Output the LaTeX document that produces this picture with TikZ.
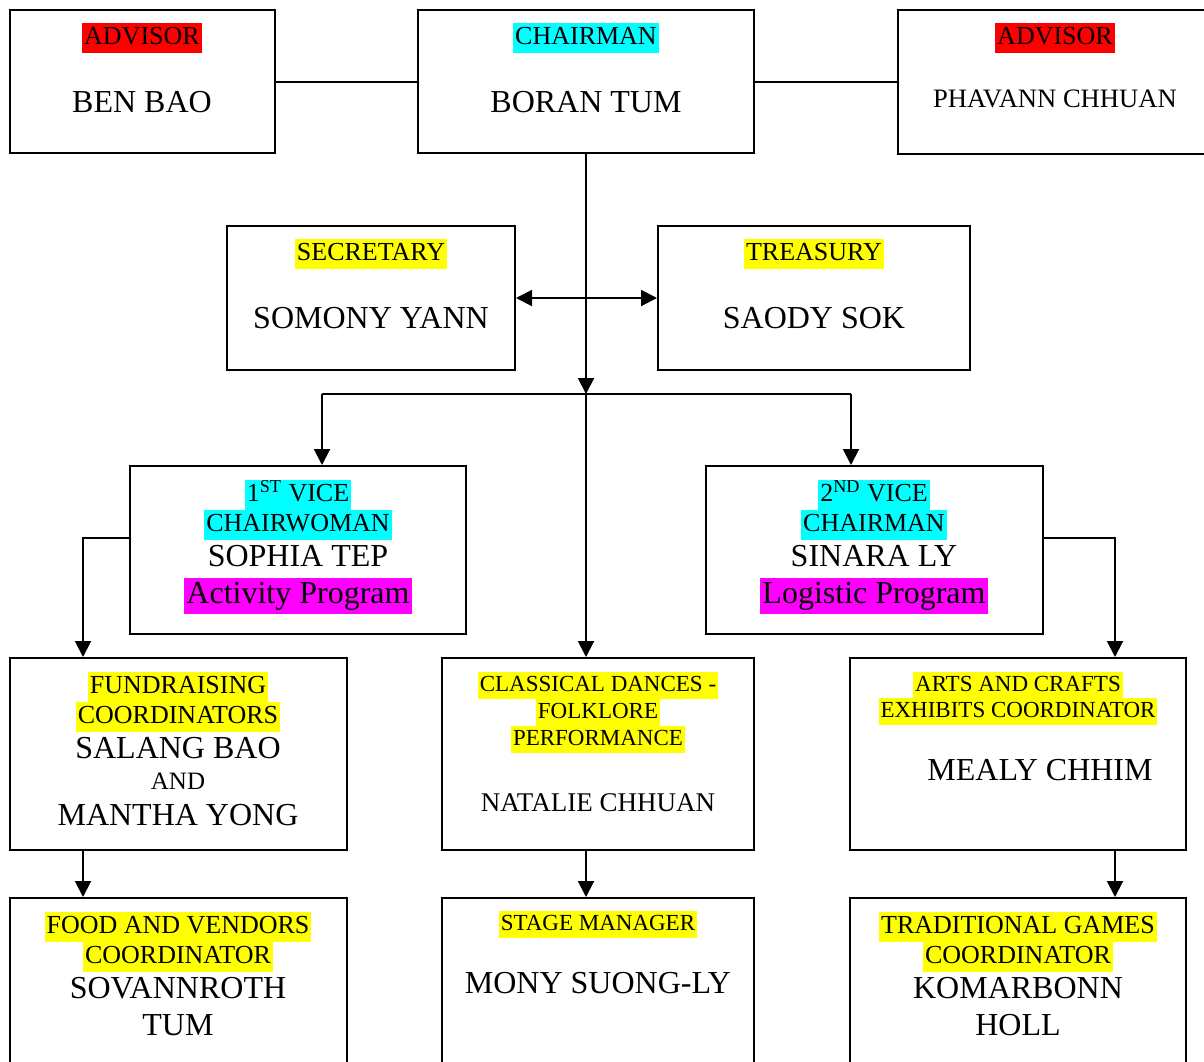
\documentclass[tikz,border=0pt]{standalone}
\usepackage{fontspec}
\setmainfont{Liberation Serif}
\usetikzlibrary{arrows.meta, positioning}
\definecolor{hlred}{RGB}{255, 0, 0}
\definecolor{hlcyan}{RGB}{0, 255, 255}
\definecolor{hlyellow}{RGB}{255, 255, 0}
\definecolor{hlmagenta}{RGB}{255, 0, 255}
\setlength{\fboxsep}{0pt}
\newcommand{\hl}[2]{\colorbox{#1}{\kern1pt\strut #2\kern1pt}}

\begin{document}
\begin{tikzpicture}[x=0.5pt, y=-0.5pt,
  box/.style={draw, line width=1pt, inner sep=0pt},
  head/.style={inner sep=0pt, anchor=base, font=\fontsize{13}{15}\selectfont},
  subhead/.style={inner sep=0pt, anchor=base, font=\fontsize{11.5}{13.5}\selectfont},
  who/.style={inner sep=0pt, anchor=base, font=\fontsize{16}{18}\selectfont},
  link/.style={line width=1pt},
  arr/.style={line width=1pt, -{Triangle[length=8pt, width=8pt]}}]
  \clip (0,0) rectangle (1204,1061);

  % --- Top row ---
  \node[box, minimum width=132.5pt, minimum height=71.5pt] (advisorL) at (142.5,81.5) {};
  \node[head] (advisorL-role) at (142,44) {\hl{hlred}{ADVISOR}};
  \node[who] (advisorL-name) at (142,112) {BEN BAO};

  \node[box, minimum width=168pt, minimum height=71.5pt] (chairman) at (586,81.5) {};
  \node[head] (chairman-role) at (586,44) {\hl{hlcyan}{CHAIRMAN}};
  \node[who] (chairman-name) at (586,112) {BORAN TUM};

  \node[box, minimum width=158pt, minimum height=72pt] (advisorR) at (1056,82) {};
  \node[head] (advisorR-role) at (1055,44) {\hl{hlred}{ADVISOR}};
  \node[head, font=\fontsize{13.3}{15}\selectfont] (advisorR-name) at (1055,107) {PHAVANN CHHUAN};

  % --- Secretary and treasury ---
  \node[box, minimum width=144pt, minimum height=72pt] (secretary) at (371,298) {};
  \node[head] (secretary-role) at (371,260) {\hl{hlyellow}{SECRETARY}};
  \node[who] (secretary-name) at (371,328) {SOMONY YANN};

  \node[box, minimum width=156pt, minimum height=72pt] (treasury) at (814,298) {};
  \node[head] (treasury-role) at (814,260) {\hl{hlyellow}{TREASURY}};
  \node[who] (treasury-name) at (814,328) {SAODY SOK};

  % --- Vice chairs ---
  \node[box, minimum width=168pt, minimum height=84pt] (vice1) at (298,550) {};
  \node[head] (vice1-role1) at (298,501) {\hl{hlcyan}{1\textsuperscript{ST} VICE}};
  \node[head] (vice1-role2) at (298,531) {\hl{hlcyan}{CHAIRWOMAN}};
  \node[who] (vice1-name) at (298,566) {SOPHIA TEP};
  \node[who] (vice1-prog) at (298,603) {\hl{hlmagenta}{Activity Program}};

  \node[box, minimum width=168.5pt, minimum height=84pt] (vice2) at (874.5,550) {};
  \node[head] (vice2-role1) at (874,501) {\hl{hlcyan}{2\textsuperscript{ND} VICE}};
  \node[head] (vice2-role2) at (874,531) {\hl{hlcyan}{CHAIRMAN}};
  \node[who] (vice2-name) at (874,566) {SINARA LY};
  \node[who] (vice2-prog) at (874,603) {\hl{hlmagenta}{Logistic Program}};

  % --- Coordinators ---
  \node[box, minimum width=168.5pt, minimum height=96pt] (fundraise) at (178.5,754) {};
  \node[head] (fundraise-role1) at (178,693) {\hl{hlyellow}{FUNDRAISING}};
  \node[head] (fundraise-role2) at (178,723) {\hl{hlyellow}{COORDINATORS}};
  \node[who] (fundraise-name1) at (178,758) {SALANG BAO};
  \node[head, font=\fontsize{12.5}{15}\selectfont] (fundraise-and) at (178,789) {AND};
  \node[who] (fundraise-name2) at (178,825) {MANTHA YONG};

  \node[box, minimum width=156pt, minimum height=96pt] (dances) at (598,754) {};
  \node[subhead] (dances-role1) at (598,691) {\hl{hlyellow}{CLASSICAL DANCES -}};
  \node[subhead] (dances-role2) at (598,718) {\hl{hlyellow}{FOLKLORE}};
  \node[subhead] (dances-role3) at (598,745) {\hl{hlyellow}{PERFORMANCE}};
  \node[who, font=\fontsize{13.5}{16}\selectfont] (dances-name) at (598,811) {NATALIE CHHUAN};

  \node[box, minimum width=168pt, minimum height=96pt] (crafts) at (1018,754) {};
  \node[subhead] (crafts-role1) at (1018,691) {\hl{hlyellow}{ARTS AND CRAFTS}};
  \node[subhead] (crafts-role2) at (1018,717) {\hl{hlyellow}{EXHIBITS COORDINATOR}};
  \node[who] (crafts-name) at (1040,780) {MEALY CHHIM};

  % --- Bottom row ---
  \node[box, minimum width=168.5pt, minimum height=91pt] (food) at (178.5,989) {};
  \node[head] (food-role1) at (178,933) {\hl{hlyellow}{FOOD AND VENDORS}};
  \node[head] (food-role2) at (178,963) {\hl{hlyellow}{COORDINATOR}};
  \node[who] (food-name1) at (178,998) {SOVANNROTH};
  \node[who] (food-name2) at (178,1035) {TUM};

  \node[box, minimum width=156pt, minimum height=91pt] (stage) at (598,989) {};
  \node[subhead] (stage-role) at (598,930) {\hl{hlyellow}{STAGE MANAGER}};
  \node[who] (stage-name) at (598,993) {MONY SUONG-LY};

  \node[box, minimum width=168pt, minimum height=91pt] (games) at (1018,989) {};
  \node[head] (games-role1) at (1018,933) {\hl{hlyellow}{TRADITIONAL GAMES}};
  \node[head] (games-role2) at (1018,963) {\hl{hlyellow}{COORDINATOR}};
  \node[who] (games-name1) at (1018,998) {KOMARBONN};
  \node[who] (games-name2) at (1018,1035) {HOLL};

  % --- Connectors ---
  \draw[link] (advisorL) -- (chairman);
  \draw[link] (chairman.east) -- (chairman.east -| advisorR.west);
  \coordinate (hub) at (586,394);
  \coordinate (busL) at (322,394);
  \coordinate (busR) at (851,394);
  \draw[arr] (chairman.south) -- (hub);
  \draw[link, {Triangle[length=8pt, width=8pt]}-{Triangle[length=8pt, width=8pt]}]
    (secretary) -- (treasury);
  \draw[link] (busL) -- (busR);
  \draw[arr] (busL) -- (busL |- vice1.north);
  \draw[arr] (busR) -- (busR |- vice2.north);
  \draw[arr] (hub) -- (hub |- dances.north);
  \draw[arr] ([yshift=6pt]vice1.west) -| (fundraise.north -| 83,0);
  \draw[arr] ([yshift=6pt]vice2.east) -| (crafts.north -| 1115,0);
  \draw[arr] (fundraise.south -| 83,0) -- (food.north -| 83,0);
  \draw[arr] (dances.south -| hub) -- (stage.north -| hub);
  \draw[arr] (crafts.south -| 1115,0) -- (games.north -| 1115,0);
\end{tikzpicture}
\end{document}
